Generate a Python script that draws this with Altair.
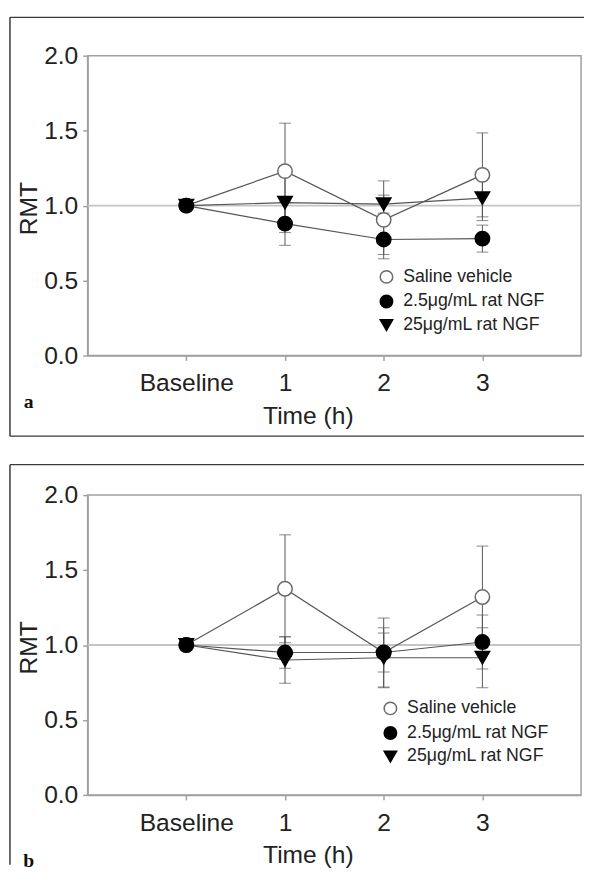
import altair as alt
import pandas as pd

# ---- data ----
times = [0, 1, 2, 3]
tick_labels = ["Baseline", "1", "2", "3"]
y_ticks = [0.0, 0.5, 1.0, 1.5, 2.0]
series_names = ["Saline vehicle", "2.5μg/mL rat NGF", "25μg/mL rat NGF"]
ref_value = [1.0]

# panel a
a_saline = [1.0, 1.23, 0.905, 1.205]
a_saline_err = [0.0, 0.32, 0.26, 0.28]
a_low = [1.0, 0.88, 0.774, 0.78]
a_low_err = [0.0, 0.145, 0.10, 0.09]
a_high = [1.0, 1.02, 1.01, 1.05]
a_high_err = [0.0, 0.20, 0.06, 0.15]

# panel b
b_saline = [1.0, 1.375, 0.95, 1.32]
b_saline_err = [0.0, 0.36, 0.23, 0.34]
b_low = [1.0, 0.95, 0.95, 1.02]
b_low_err = [0.0, 0.105, 0.13, 0.18]
b_high = [1.0, 0.90, 0.915, 0.915]
b_high_err = [0.0, 0.155, 0.20, 0.20]

FONT = "Liberation Sans"
TXT = "#222222"
AXC = "#a0a0a0"
LINEC = "#555555"
FRAMEC = "#3a3a3a"


def make_df(vals_list, errs_list):
    rows = []
    for name, vals, errs in zip(series_names, vals_list, errs_list):
        for t, v, e in zip(times, vals, errs):
            rows.append({"time": t, "value": v, "err": e, "lo": v - e, "hi": v + e, "series": name})
    return pd.DataFrame(rows)


label_expr = "[" + ",".join("'" + s + "'" for s in tick_labels) + "][datum.value]"


def panel(df, letter, letter_y, frame_top, frame_bottom, frame_has_bottom, lx, ly):
    x_enc = alt.X(
        "time:Q",
        scale=alt.Scale(domain=[-1, 4], nice=False, zero=False),
        axis=alt.Axis(
            values=times, labelExpr=label_expr, title="Time (h)",
            titleX=224, titleY=69, titleBaseline="alphabetic", titleAlign="center",
            labelPadding=11, tickSize=5, grid=False, labelFlush=False,
        ),
    )
    y_enc = alt.Y(
        "value:Q",
        scale=alt.Scale(domain=[0, 2], nice=False),
        axis=alt.Axis(
            values=y_ticks, format=".1f", title="RMT",
            titleX=-60, titleY=155, titleBaseline="middle", titleAlign="center",
            titleAngle=270, labelPadding=5, tickSize=5, grid=False,
        ),
    )
    one = pd.DataFrame({"k": [0]})
    frame_parts = [
        alt.Chart(one).mark_rule(color=FRAMEC, strokeWidth=1.5).encode(
            x=alt.value(-79), x2=alt.value(505), y=alt.value(frame_top), y2=alt.value(frame_top)),
        alt.Chart(one).mark_rule(color=FRAMEC, strokeWidth=1.5).encode(
            x=alt.value(-79), x2=alt.value(-79), y=alt.value(frame_top), y2=alt.value(frame_bottom)),
    ]
    if frame_has_bottom:
        frame_parts.append(
            alt.Chart(one).mark_rule(color=FRAMEC, strokeWidth=1.5).encode(
                x=alt.value(-79), x2=alt.value(505), y=alt.value(frame_bottom), y2=alt.value(frame_bottom)))

    ref = alt.Chart(pd.DataFrame({"r": ref_value})).mark_rule(
        color="#c4c4c4", strokeWidth=2).encode(y=alt.Y("r:Q"))

    base = alt.Chart(df)
    lines = base.mark_line(color=LINEC, strokeWidth=1.2).encode(
        x=x_enc, y=y_enc, detail="series:N", order="time:Q")

    eb_df = df[df["err"] > 0]
    ebase = alt.Chart(eb_df)
    bars = ebase.mark_rule(color=LINEC, strokeWidth=1).encode(
        x="time:Q", y="lo:Q", y2="hi:Q")
    cap_lo = ebase.mark_tick(color=LINEC, orient="horizontal", size=12, thickness=1).encode(
        x="time:Q", y="lo:Q")
    cap_hi = ebase.mark_tick(color=LINEC, orient="horizontal", size=12, thickness=1).encode(
        x="time:Q", y="hi:Q")

    leg = alt.Legend(
        title=None, orient="none", legendX=lx, legendY=ly, padding=0,
        labelFontSize=18, labelFont=FONT, labelColor=TXT, labelOffset=8,
        symbolSize=160, symbolStrokeWidth=1.5, rowPadding=5,
    )
    points = base.mark_point(opacity=1, size=215, strokeWidth=1.5).encode(
        x="time:Q", y="value:Q",
        shape=alt.Shape("series:N", scale=alt.Scale(domain=series_names, range=["circle", "circle", "triangle-down"]), legend=leg),
        fill=alt.Fill("series:N", scale=alt.Scale(domain=series_names, range=["white", "black", "black"]), legend=leg),
        stroke=alt.Stroke("series:N", scale=alt.Scale(domain=series_names, range=["#6a6a6a", "black", "black"]), legend=leg),
    )

    letter_mark = alt.Chart(one).mark_text(
        text=letter, font="Liberation Serif", fontWeight="bold", fontSize=20,
        color="#111111", align="center", baseline="middle").encode(
        x=alt.value(-60), y=alt.value(letter_y))

    return alt.layer(*frame_parts, ref, lines, bars, cap_lo, cap_hi, points, letter_mark).properties(
        width=502, height=305)


df_a = make_df([a_saline, a_low, a_high], [a_saline_err, a_low_err, a_high_err])
df_b = make_df([b_saline, b_low, b_high], [b_saline_err, b_low_err, b_high_err])

pa = panel(df_a, "a", 352, -39, 387, True, 295, 216)
pb = panel(df_b, "b", 372, -31, 376, False, 299, 208)

chart = alt.vconcat(pa, pb, spacing=25).resolve_scale(
    shape="independent", fill="independent", stroke="independent"
).resolve_legend(
    shape="independent", fill="independent", stroke="independent"
).properties(padding=0).configure(font=FONT, padding=0).configure_view(
    stroke=AXC, strokeWidth=1.5
).configure_axis(
    labelFont=FONT, titleFont=FONT, labelFontSize=25, titleFontSize=25,
    titleFontWeight="normal", labelColor=TXT, titleColor=TXT,
    domainColor=AXC, tickColor=AXC, domainWidth=1.5, tickWidth=1.5,
)

chart.save("out.html", embed_options={"renderer": "svg", "actions": False})
